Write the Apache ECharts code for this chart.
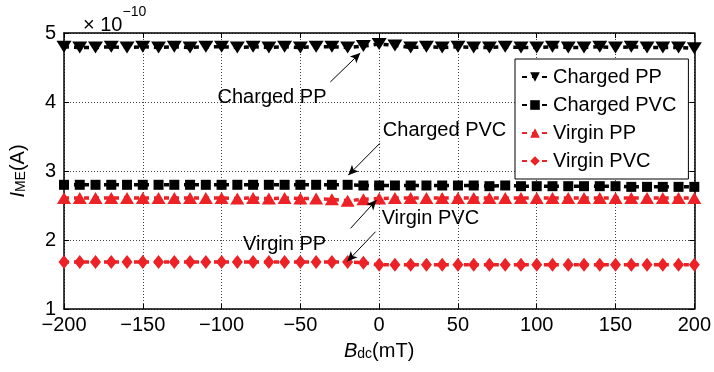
<!DOCTYPE html>
<html>
<head>
<meta charset="utf-8">
<script src="https://cdn.jsdelivr.net/npm/echarts@6/dist/echarts.min.js"></script>
<style>
  html, body { margin: 0; padding: 0; background: #fff; }
  #main { width: 714px; height: 372px; }
</style>
</head>
<body>
<div id="main"></div>
<script>
// B_dc values (mT), one point every 10 mT
const bdc = [-200, -190, -180, -170, -160, -150, -140, -130, -120, -110, -100, -90, -80, -70, -60, -50, -40, -30, -20, -10,
  0, 10, 20, 30, 40, 50, 60, 70, 80, 90, 100, 110, 120, 130, 140, 150, 160, 170, 180, 190, 200]

// I_ME in units of 1e-10 A
const chargedPP = [4.80, 4.79, 4.79, 4.80, 4.79, 4.80, 4.79, 4.80, 4.79, 4.80, 4.80, 4.79, 4.80, 4.79, 4.80, 4.79, 4.80, 4.80, 4.79, 4.81,
  4.84, 4.82, 4.79, 4.80, 4.79, 4.80, 4.79, 4.79, 4.80, 4.79, 4.79, 4.80, 4.79, 4.79, 4.80, 4.79, 4.80, 4.79, 4.79, 4.79, 4.78]
const chargedPVC = [2.80, 2.80, 2.80, 2.80, 2.80, 2.80, 2.80, 2.80, 2.80, 2.80, 2.80, 2.80, 2.80, 2.80, 2.80, 2.80, 2.80, 2.80, 2.80, 2.79,
  2.79, 2.79, 2.79, 2.79, 2.79, 2.79, 2.79, 2.78, 2.79, 2.78, 2.78, 2.78, 2.78, 2.78, 2.78, 2.78, 2.77, 2.77, 2.77, 2.77, 2.77]
const virginPP = [2.61, 2.61, 2.61, 2.61, 2.61, 2.61, 2.61, 2.61, 2.61, 2.61, 2.61, 2.60, 2.61, 2.60, 2.61, 2.60, 2.60, 2.59, 2.57, 2.59,
  2.60, 2.61, 2.61, 2.61, 2.61, 2.61, 2.61, 2.61, 2.61, 2.61, 2.61, 2.61, 2.61, 2.61, 2.61, 2.61, 2.61, 2.61, 2.61, 2.61, 2.61]
const virginPVC = [1.68, 1.68, 1.68, 1.68, 1.68, 1.68, 1.68, 1.68, 1.68, 1.68, 1.68, 1.68, 1.68, 1.68, 1.68, 1.68, 1.68, 1.68, 1.68, 1.67,
  1.64, 1.64, 1.64, 1.64, 1.64, 1.64, 1.64, 1.64, 1.64, 1.64, 1.64, 1.64, 1.64, 1.64, 1.64, 1.64, 1.64, 1.64, 1.64, 1.64, 1.64]

const seriesNames = ['Charged PP', 'Charged PVC', 'Virgin PP', 'Virgin PVC']

// annotation text (name, x, y) and arrows (from -> to) in data units
const noteNames = ['Charged PP', 'Charged PVC', 'Virgin PVC', 'Virgin PP']
const noteX = [-68, 41.5, 32.5, -60]
const noteY = [4.07, 3.58, 2.31, 1.93]
const arrowFrom = [[-31, 4.29], [0.4, 3.40], [-2.3, 2.12], [-18.1, 2.17]]
const arrowTo = [[-12, 4.71], [-19.6, 2.94], [-20.2, 1.69], [-1.7, 2.58]]

const font = 'Liberation Sans, Arial, sans-serif'
const red = '#ec2227'

const pairs = (ys) => bdc.map((x, i) => [x, ys[i]])

function makeLine (name, ys, color, symbol, size, rotate) {
  return {
    name: name,
    type: 'line',
    data: pairs(ys),
    symbol: symbol,
    symbolSize: size,
    symbolRotate: rotate,
    showSymbol: true,
    itemStyle: { color: color },
    lineStyle: { color: color, width: 3.5, type: [5, 5] },
    animation: false,
    z: 3
  }
}

const subRich = {
  i: { fontSize: 20, fontStyle: 'italic', color: '#000', fontFamily: font, lineHeight: 20, verticalAlign: 'top' },
  s: { fontSize: 14, color: '#000', fontFamily: font, lineHeight: 14, verticalAlign: 'bottom' },
  n: { fontSize: 20, color: '#000', fontFamily: font, lineHeight: 20, verticalAlign: 'top' }
}

const myChart = echarts.init(document.getElementById('main'))
const option = {
  backgroundColor: '#fff',
  textStyle: { fontFamily: font },
  grid: { left: 64, right: 16, top: 33, bottom: 63 },
  title: {
    text: '{a|× 10}{s|−10}',
    left: 78,
    top: 0,
    textStyle: {
      rich: {
        a: { fontSize: 20, fontWeight: 'normal', color: '#000', fontFamily: font, lineHeight: 30, verticalAlign: 'bottom' },
        s: { fontSize: 14, fontWeight: 'normal', color: '#000', fontFamily: font, lineHeight: 18, verticalAlign: 'top' }
      }
    }
  },
  legend: {
    data: seriesNames,
    orient: 'vertical',
    left: 515,
    top: 59,
    padding: [8, 12, 8, 6],
    itemWidth: 26,
    itemHeight: 12,
    itemGap: 8,
    backgroundColor: '#fff',
    borderColor: '#000',
    borderWidth: 1,
    textStyle: { fontSize: 20, color: '#000', fontFamily: font }
  },
  xAxis: [
    {
      type: 'value',
      min: -200,
      max: 200,
      interval: 50,
      name: '{i|B}{s|dc}{n|(mT)}',
      nameLocation: 'middle',
      nameGap: 32,
      nameTextStyle: { rich: subRich },
      axisLine: { onZero: false, lineStyle: { color: '#000', width: 1.5 } },
      axisTick: { inside: true, length: 5, lineStyle: { color: '#000' } },
      axisLabel: {
        fontSize: 20,
        color: '#000',
        margin: 6,
        formatter: (v) => String(v).replace('-', '−')
      },
      splitLine: { show: true, lineStyle: { color: '#444', type: [1, 2], width: 1 } }
    },
    {
      type: 'value',
      position: 'top',
      min: -200,
      max: 200,
      interval: 50,
      axisLine: { show: true, onZero: false, lineStyle: { color: '#000', width: 1.5 } },
      axisTick: { inside: true, length: 5, lineStyle: { color: '#000' } },
      axisLabel: { show: false },
      splitLine: { show: false }
    }
  ],
  yAxis: [
    {
      type: 'value',
      min: 1,
      max: 5,
      interval: 1,
      name: '{i|I}{s|ME}{n|(A)}',
      nameLocation: 'middle',
      nameRotate: 90,
      nameGap: 36,
      nameTextStyle: { rich: subRich },
      axisLine: { show: true, onZero: false, lineStyle: { color: '#000', width: 1.5 } },
      axisTick: { show: true, inside: true, length: 5, lineStyle: { color: '#000' } },
      axisLabel: { fontSize: 20, color: '#000', margin: 8 },
      splitLine: { show: true, lineStyle: { color: '#444', type: [1, 2], width: 1 } }
    },
    {
      type: 'value',
      position: 'right',
      min: 1,
      max: 5,
      interval: 1,
      axisLine: { show: true, onZero: false, lineStyle: { color: '#000', width: 1.5 } },
      axisTick: { show: true, inside: true, length: 5, lineStyle: { color: '#000' } },
      axisLabel: { show: false },
      splitLine: { show: false }
    }
  ],
  series: [
    makeLine(seriesNames[0], chargedPP, '#000', 'triangle', [15, 12], 180),
    makeLine(seriesNames[1], chargedPVC, '#000', 'rect', 10, 0),
    makeLine(seriesNames[2], virginPP, red, 'triangle', [14, 12], 0),
    makeLine(seriesNames[3], virginPVC, red, 'diamond', [11, 14], 0),
    {
      name: 'arrows',
      type: 'line',
      data: [],
      silent: true,
      animation: false,
      markLine: {
        silent: true,
        animation: false,
        symbol: ['none', 'arrow'],
        symbolSize: [7, 10],
        label: { show: false },
        lineStyle: { color: '#000', width: 1, type: 'solid' },
        data: arrowFrom.map((p, i) => [{ coord: p }, { coord: arrowTo[i] }])
      },
      z: 5
    }
  ]
}
myChart.setOption(option)

// annotation labels placed from data coordinates
myChart.setOption({
  graphic: noteNames.map((n, i) => {
    const p = myChart.convertToPixel({ gridIndex: 0 }, [noteX[i], noteY[i]])
    return {
      type: 'text',
      x: p[0],
      y: p[1],
      silent: true,
      z: 10,
      style: {
        text: n,
        fill: '#000',
        font: '20px ' + font,
        align: 'center',
        verticalAlign: 'middle'
      }
    }
  })
})

window.addEventListener('resize', () => {
  myChart.resize()
})
</script>
</body>
</html>
